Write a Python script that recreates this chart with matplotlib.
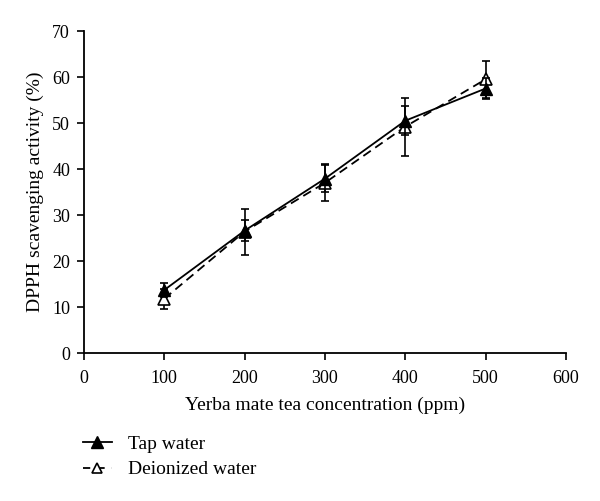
import matplotlib
matplotlib.use("Agg")
import matplotlib.pyplot as plt
from matplotlib.lines import Line2D

plt.rcParams['font.family'] = ['Liberation Serif', 'DejaVu Serif']

conc = [100, 200, 300, 400, 500]
tap = [13.7, 26.6, 37.9, 50.5, 57.5]
tap_err = [1.6, 2.3, 3.0, 3.2, 2.2]
deion = [11.8, 26.4, 37.0, 49.2, 59.5]
deion_err = [2.2, 5.0, 4.0, 6.3, 4.0]

xticks = [0, 100, 200, 300, 400, 500, 600]
yticks = [0, 10, 20, 30, 40, 50, 60, 70]

fig = plt.figure(figsize=(6.0, 5.01), dpi=100)
ax = fig.add_axes([0.14, 0.2954, 0.803, 0.6426])

ax.errorbar(conc, tap, yerr=tap_err, color='black', lw=1.3, marker='^',
            ms=8, mfc='black', mec='black', capsize=3, elinewidth=1.2,
            capthick=1.2, zorder=3)
ax.errorbar(conc, deion, yerr=deion_err, color='black', lw=1.3, ls=(0, (5, 3)),
            marker='^', ms=8, mfc='white', mec='black', mew=1.2, capsize=3,
            elinewidth=1.2, capthick=1.2, zorder=2)

ax.set_xlim(0, 600)
ax.set_ylim(0, 70)
ax.set_xticks(xticks)
ax.set_yticks(yticks)
ax.spines['top'].set_visible(False)
ax.spines['right'].set_visible(False)
ax.spines['left'].set_linewidth(1.3)
ax.spines['bottom'].set_linewidth(1.3)
ax.tick_params(direction='out', length=5, width=1.2, labelsize=13, colors='black')
ax.tick_params(axis='x', pad=7)
ax.tick_params(axis='y', pad=5)
ax.set_xlabel('Yerba mate tea concentration (ppm)', fontsize=14, labelpad=7)
ax.set_ylabel('DPPH scavenging activity (%)', fontsize=14, labelpad=6)

h1 = Line2D([], [], color='black', lw=1.3, marker='^', ms=8, mfc='black', mec='black')
h2 = Line2D([], [], color='black', lw=1.3, ls=(0, (4, 4)), marker='^', ms=7,
            mfc='white', mec='black', mew=1.2)
fig.legend(handles=[h1, h2], labels=['Tap water', 'Deionized water'],
           loc='upper left', bbox_to_anchor=(0.109, 0.166),
           frameon=False, fontsize=14, handlelength=1.5, handletextpad=0.8,
           labelspacing=0.4)

fig.savefig('out.png', dpi=100)
